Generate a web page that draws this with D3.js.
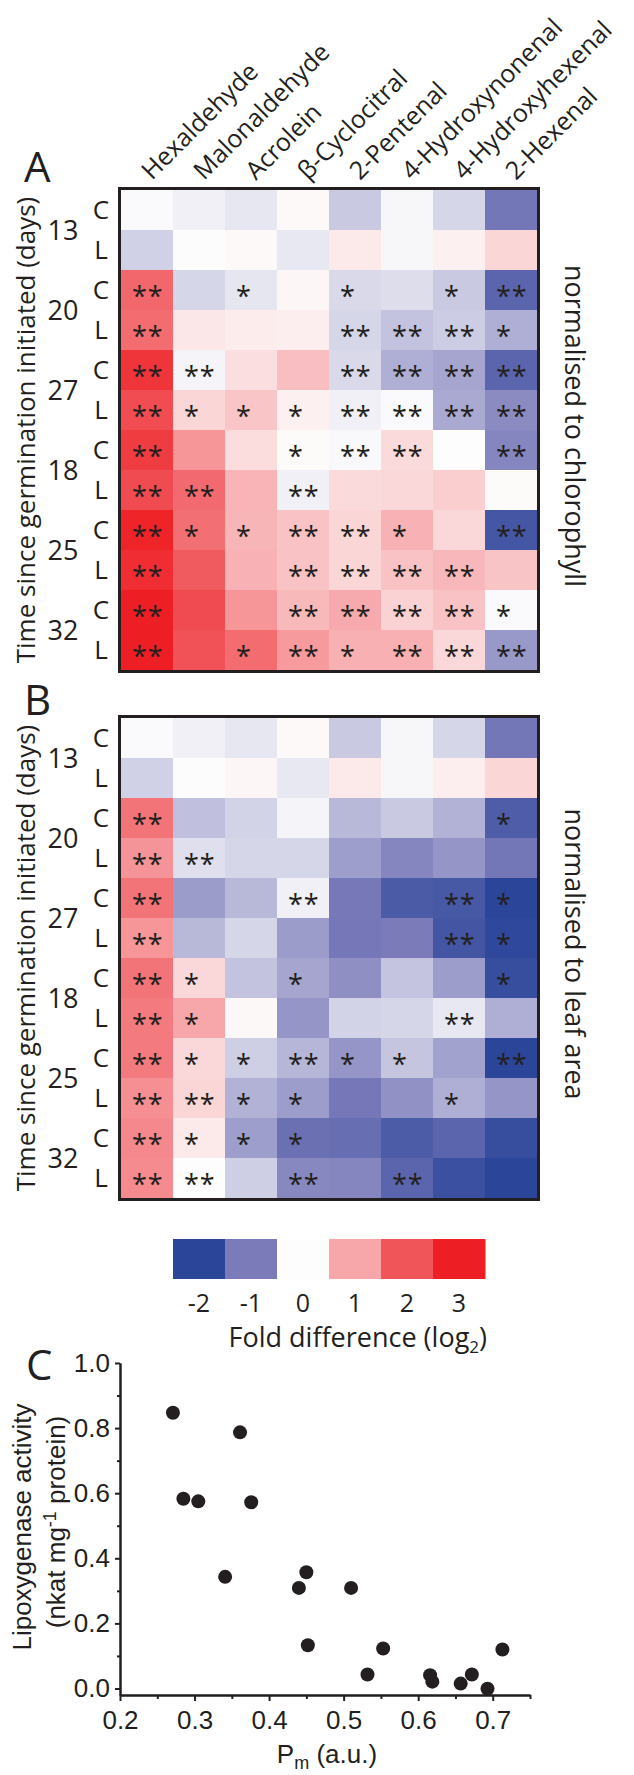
<!DOCTYPE html>
<html>
<head>
<meta charset="utf-8">
<script src="https://cdn.jsdelivr.net/npm/d3@7"></script>
<style>
  body { margin: 0; background: #fff; }
  text { fill: #231f20; }
</style>
</head>
<body>
<svg id="fig"></svg>
<script>
// ---- data ----
var compounds = ["Hexaldehyde", "Malonaldehyde", "Acrolein", "β-Cyclocitral",
    "2-Pentenal", "4-Hydroxynonenal", "4-Hydroxyhexenal", "2-Hexenal"];
var rowTypes = ["C", "L", "C", "L", "C", "L", "C", "L", "C", "L", "C", "L"];
var dayGroups = ["13", "20", "27", "18", "25", "32"];

// log2 fold difference, normalised to chlorophyll (panel A)
var chlValues = [
    [-0.02, -0.1, -0.17, 0.05, -0.4, -0.05, -0.3, -1.1],
    [-0.35, -0.01, 0.05, -0.16, 0.23, -0.05, 0.15, 0.45],
    [1.78, -0.3, -0.18, 0.08, -0.28, -0.25, -0.4, -1.4],
    [1.72, 0.25, 0.2, 0.17, -0.3, -0.45, -0.38, -0.6],
    [2.6, -0.06, 0.35, 0.72, -0.28, -0.6, -0.68, -1.4],
    [2.17, 0.45, 0.64, 0.15, -0.1, -0.02, -0.65, -0.88],
    [2.46, 1.2, 0.37, 0.03, -0.03, 0.4, 0, -0.92],
    [2.18, 1.74, 0.84, -0.1, 0.4, 0.42, 0.55, 0.03],
    [2.9, 1.68, 0.83, 0.67, 0.45, 0.87, 0.43, -1.67],
    [2.75, 1.93, 0.87, 0.67, 0.45, 0.67, 0.8, 0.65],
    [3.0, 2.18, 1.2, 0.78, 0.95, 0.5, 0.67, -0.02],
    [3.0, 2.06, 1.72, 1.15, 0.88, 0.88, 0.42, -0.78]
];
var chlStars = [
    ["", "", "", "", "", "", "", ""],
    ["", "", "", "", "", "", "", ""],
    ["**", "", "*", "", "*", "", "*", "**"],
    ["**", "", "", "", "**", "**", "**", "*"],
    ["**", "**", "", "", "**", "**", "**", "**"],
    ["**", "*", "*", "*", "**", "**", "**", "**"],
    ["**", "", "", "*", "**", "**", "", "**"],
    ["**", "**", "", "**", "", "", "", ""],
    ["**", "*", "*", "**", "**", "*", "", "**"],
    ["**", "", "", "**", "**", "**", "**", ""],
    ["**", "", "", "**", "**", "**", "**", "*"],
    ["**", "", "*", "**", "*", "**", "**", "**"]
];

// log2 fold difference, normalised to leaf area (panel B)
var leafValues = [
    [-0.02, -0.1, -0.17, 0.05, -0.4, -0.05, -0.3, -1.1],
    [-0.35, -0.01, 0.08, -0.16, 0.23, -0.05, 0.18, 0.45],
    [1.62, -0.47, -0.32, -0.06, -0.53, -0.4, -0.58, -1.55],
    [1.22, -0.23, -0.3, -0.3, -0.73, -0.92, -0.8, -1.1],
    [1.62, -0.75, -0.53, -0.1, -1.05, -1.6, -1.65, -2.0],
    [1.2, -0.53, -0.3, -0.75, -1.07, -1.0, -1.7, -1.95],
    [1.62, 0.42, -0.45, -0.68, -0.85, -0.44, -0.74, -1.85],
    [1.54, 1.0, 0.06, -0.8, -0.32, -0.3, -0.16, -0.6],
    [1.54, 0.42, -0.36, -0.55, -0.8, -0.43, -0.7, -2.0],
    [1.28, 0.45, -0.58, -0.74, -1.07, -0.83, -0.6, -0.8],
    [1.37, 0.23, -0.73, -1.2, -1.25, -1.58, -1.4, -1.85],
    [1.33, 0.0, -0.36, -0.9, -0.92, -1.4, -1.8, -2.0]
];
var leafStars = [
    ["", "", "", "", "", "", "", ""],
    ["", "", "", "", "", "", "", ""],
    ["**", "", "", "", "", "", "", "*"],
    ["**", "**", "", "", "", "", "", ""],
    ["**", "", "", "**", "", "", "**", "*"],
    ["**", "", "", "", "", "", "**", "*"],
    ["**", "*", "", "*", "", "", "", "*"],
    ["**", "*", "", "", "", "", "**", ""],
    ["**", "*", "*", "**", "*", "*", "", "**"],
    ["**", "**", "*", "*", "", "", "*", ""],
    ["**", "*", "*", "*", "", "", "", ""],
    ["**", "**", "", "**", "", "**", "", ""]
];

var scaleSteps = [-2, -1, 0, 1, 2, 3];
var scaleColours = ["#2b4599", "#7b7bba", "#fdfdfd", "#f7a6a9", "#f0555a", "#ee1f24"];

// panel C scatter
var pmValues = [0.271, 0.361, 0.285, 0.305, 0.376, 0.341, 0.450, 0.440, 0.510,
    0.452, 0.553, 0.532, 0.616, 0.619, 0.657, 0.672, 0.693, 0.713];
var loxValues = [0.847, 0.787, 0.583, 0.575, 0.572, 0.343, 0.357, 0.309, 0.309,
    0.133, 0.123, 0.043, 0.041, 0.021, 0.015, 0.043, -0.001, 0.120];
var xTicks = [0.2, 0.3, 0.4, 0.5, 0.6, 0.7];
var xMinorTicks = [0.25, 0.35, 0.45, 0.55, 0.65, 0.75];
var yTicks = [0.0, 0.2, 0.4, 0.6, 0.8, 1.0];
var yMinorTicks = [0.1, 0.3, 0.5, 0.7, 0.9];

// ---- drawing ----
var W = 634, H = 1775;
var ink = "#231f20";
var heatFont = "'Open Sans', sans-serif";
var plotFont = "'Liberation Sans', Arial, sans-serif";

var svg = d3.select("#fig").attr("width", W).attr("height", H)
    .style("background", "#fff");

var colour = d3.scaleLinear().domain(scaleSteps).range(scaleColours)
    .interpolate(d3.interpolateRgb).clamp(true);

var x = d3.scaleBand().domain(compounds).range([121, 537]);

function drawHeatmap(top, values, stars, sideLabel, letter, letterY) {
    var y = d3.scaleBand().domain(d3.range(rowTypes.length)).range([top, top + 480]);
    var g = svg.append("g");

    var cells = [];
    values.forEach((row, i) => {
        row.forEach((v, j) => {
            cells.push({row: i, col: compounds[j], value: v, star: stars[i][j]});
        });
    });

    g.selectAll(".cell")
        .data(cells)
        .enter().append("rect")
        .attr("class", "cell")
        .attr("x", d => x(d.col))
        .attr("y", d => y(d.row))
        .attr("width", x.bandwidth() + 0.5)
        .attr("height", y.bandwidth() + 0.5)
        .style("fill", d => colour(d.value));

    // significance marks, left-aligned like the original
    g.selectAll(".star")
        .data(cells.filter(d => d.star !== ""))
        .enter().append("text")
        .attr("class", "star")
        .attr("x", d => x(d.col) + x.bandwidth() / 2 - 15)
        .attr("y", d => y(d.row) + y.bandwidth() / 2 + 16)
        .style("font-family", heatFont)
        .style("font-size", "27px")
        .style("letter-spacing", "1px")
        .text(d => d.star);

    g.append("rect")
        .attr("x", x.range()[0] - 1.5)
        .attr("y", top - 1.5)
        .attr("width", x.range()[1] - x.range()[0] + 3)
        .attr("height", 483)
        .style("fill", "none")
        .style("stroke", ink)
        .style("stroke-width", 3);

    // row labels C / L
    g.selectAll(".rowlab")
        .data(rowTypes)
        .enter().append("text")
        .attr("x", 101)
        .attr("y", (d, i) => y(i) + y.bandwidth() / 2)
        .attr("dy", "0.36em")
        .style("text-anchor", "middle")
        .style("font-family", heatFont)
        .style("font-size", "26px")
        .text(d => d);

    g.selectAll(".daylab")
        .data(dayGroups)
        .enter().append("text")
        .attr("x", 63)
        .attr("y", (d, i) => y(i * 2) + y.bandwidth())
        .attr("dy", "0.36em")
        .style("text-anchor", "middle")
        .style("font-family", heatFont)
        .style("font-size", "27px")
        .text(d => d);

    g.append("text")
        .attr("transform", "translate(35," + (top + 240) + ") rotate(-90)")
        .style("text-anchor", "middle")
        .style("font-family", heatFont)
        .style("font-size", "26px")
        .text("Time since germination initiated (days)");

    g.append("text")
        .attr("transform", "translate(565," + (top + 236) + ") rotate(90)")
        .style("text-anchor", "middle")
        .style("font-family", heatFont)
        .style("font-size", "27px")
        .text(sideLabel);

    g.append("text")
        .attr("x", 24)
        .attr("y", letterY)
        .style("font-family", heatFont)
        .style("font-size", "42px")
        .text(letter);
}

// column labels over panel A
svg.append("g").selectAll("text")
    .data(compounds)
    .enter().append("text")
    .attr("transform", d => "translate(" + (x(d) + x.bandwidth() / 2 + 5) + ",181) rotate(-45)")
    .style("font-family", heatFont)
    .style("font-size", "25px")
    .text(d => d);

drawHeatmap(190, chlValues, chlStars, "normalised to chlorophyll", "A", 182);
drawHeatmap(718, leafValues, leafStars, "normalised to leaf area", "B", 715);

// colour key
var kx = d3.scaleBand().domain(scaleSteps).range([173, 485]);
var key = svg.append("g");
key.selectAll("rect")
    .data(scaleSteps)
    .enter().append("rect")
    .attr("x", d => kx(d))
    .attr("y", 1239)
    .attr("width", kx.bandwidth() + 0.5)
    .attr("height", 40)
    .style("fill", d => colour(d));
key.selectAll(".klab")
    .data(scaleSteps)
    .enter().append("text")
    .attr("x", d => kx(d) + kx.bandwidth() / 2)
    .attr("y", 1312)
    .style("text-anchor", "middle")
    .style("font-family", heatFont)
    .style("font-size", "25px")
    .text(d => d);
var ktitle = key.append("text")
    .attr("x", 487)
    .attr("y", 1347)
    .style("text-anchor", "end")
    .style("font-family", heatFont)
    .style("font-size", "27px");
ktitle.append("tspan").text("Fold difference (log");
ktitle.append("tspan").attr("dy", 6).style("font-size", "17px").text("2");
ktitle.append("tspan").attr("dy", -6).text(")");

// panel C
var sx = d3.scaleLinear().domain([0.2, 0.75]).range([120, 530]);
var sy = d3.scaleLinear().domain([-0.02, 1.0]).range([1695, 1363]);

var plot = svg.append("g");

function styleAxis(sel) {
    sel.selectAll("path, line").style("stroke", ink).style("stroke-width", 2);
    sel.selectAll("text")
        .style("font-family", plotFont)
        .style("font-size", "26px")
        .style("fill", ink);
}

plot.append("g")
    .attr("transform", "translate(0,1695)")
    .call(d3.axisBottom(sx).tickValues(xMinorTicks).tickSize(4).tickSizeOuter(0).tickFormat(""))
    .call(styleAxis);
plot.append("g")
    .attr("transform", "translate(0,1695)")
    .call(d3.axisBottom(sx).tickValues(xTicks).tickSize(6).tickSizeOuter(0)
        .tickPadding(10).tickFormat(d3.format(".1f")))
    .call(styleAxis);

plot.append("g")
    .attr("transform", "translate(120,0)")
    .call(d3.axisLeft(sy).tickValues(yMinorTicks).tickSize(3).tickSizeOuter(0).tickFormat(""))
    .call(styleAxis);
plot.append("g")
    .attr("transform", "translate(120,0)")
    .call(d3.axisLeft(sy).tickValues(yTicks).tickSize(5).tickSizeOuter(0)
        .tickPadding(5).tickFormat(d3.format(".1f")))
    .call(styleAxis);

plot.selectAll(".dot")
    .data(pmValues.map((v, i) => ({pm: v, lox: loxValues[i]})))
    .enter().append("circle")
    .attr("class", "dot")
    .attr("cx", d => sx(d.pm))
    .attr("cy", d => sy(d.lox))
    .attr("r", 7)
    .style("fill", ink);

var xt = plot.append("text")
    .attr("x", 327)
    .attr("y", 1763)
    .style("text-anchor", "middle")
    .style("font-family", plotFont)
    .style("font-size", "26px");
xt.append("tspan").text("P");
xt.append("tspan").attr("dy", 6).style("font-size", "18px").text("m");
xt.append("tspan").attr("dy", -6).text(" (a.u.)");

plot.append("text")
    .attr("transform", "translate(31,1527) rotate(-90)")
    .style("text-anchor", "middle")
    .style("font-family", plotFont)
    .style("font-size", "26px")
    .text("Lipoxygenase activity");
var yt2 = plot.append("text")
    .attr("transform", "translate(65,1522) rotate(-90)")
    .style("text-anchor", "middle")
    .style("font-family", plotFont)
    .style("font-size", "26px");
yt2.append("tspan").text("(nkat mg");
yt2.append("tspan").attr("dy", -9).style("font-size", "18px").text("-1");
yt2.append("tspan").attr("dy", 9).text(" protein)");

svg.append("text")
    .attr("x", 26)
    .attr("y", 1380)
    .style("font-family", heatFont)
    .style("font-size", "42px")
    .text("C");
</script>
</body>
</html>
